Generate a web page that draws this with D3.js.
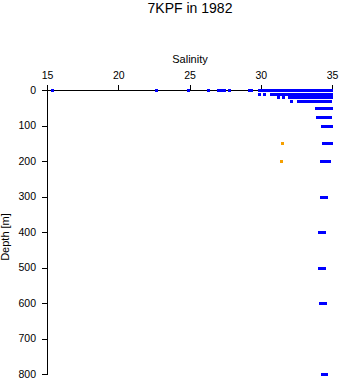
<!DOCTYPE html>
<html><head><meta charset="utf-8">
<script src="https://cdn.jsdelivr.net/npm/d3@7"></script>
<style>body{margin:0;background:#fff}svg{display:block}text{font-family:"Liberation Sans",Arial,sans-serif}</style>
</head><body><svg id="c" width="341" height="384"></svg>
<script>
const title = "7KPF in 1982";
const xLabel = "Salinity";
const yLabel = "Depth [m]";
const xTicks = [15, 20, 25, 30, 35];
const yTicks = [0, 100, 200, 300, 400, 500, 600, 700, 800];
const depths = [0, 10, 20, 30, 50, 75, 100, 150, 200, 300, 400, 500, 600, 800];
const blueSalinity = [
  [15.35, 22.65, 24.9, 26.3, 27.0, 27.2, 27.45, 27.8, 29.2, 29.35, 29.85, 30.05, 30.25, 30.45, 30.65, 30.85, 31.05, 31.25, 31.45, 31.65, 31.85, 32.05, 32.25, 32.45, 32.65, 32.85, 33.05, 33.25, 33.45, 33.65, 33.85, 34.05, 34.25, 34.45, 34.65, 34.85, 34.92],
  [29.9, 30.25, 30.72, 30.9, 31.1, 31.3, 31.5, 31.7, 31.9, 32.1, 32.3, 32.5, 32.7, 32.9, 33.1, 33.3, 33.5, 33.7, 33.9, 34.1, 34.3, 34.5, 34.7, 34.9],
  [31.23, 31.56, 31.95, 32.1, 32.3, 32.5, 32.7, 32.9, 33.1, 33.3, 33.5, 33.7, 33.9, 34.1, 34.3, 34.5, 34.7, 34.9],
  [32.12, 32.62, 32.72, 32.9, 33.1, 33.3, 33.5, 33.7, 33.9, 34.1, 34.3, 34.5, 34.7, 34.85],
  [33.86, 34.05, 34.25, 34.45, 34.65, 34.85, 34.92],
  [33.97, 34.15, 34.35, 34.55, 34.75, 34.88],
  [34.3, 34.5, 34.7, 34.9],
  [34.4, 34.6, 34.8, 34.9],
  [34.25, 34.45, 34.65, 34.82],
  [34.2, 34.4, 34.55],
  [34.1, 34.3, 34.42],
  [34.12, 34.3, 34.42],
  [34.18, 34.35, 34.48],
  [34.27, 34.45, 34.56]
];
const orangeDepths = [150, 200];
const orangeSalinity = [31.5, 31.45];

const svg = d3.select("#c");
const x = d3.scaleLinear().domain([15, 35]).range([47, 332]);
const y = d3.scaleLinear().domain([0, 800]).range([90, 374]);

svg.append("text").attr("x", 190).attr("y", 13).attr("text-anchor", "middle")
  .attr("font-size", 14).text(title);
svg.append("text").attr("x", 190).attr("y", 63).attr("text-anchor", "middle")
  .attr("font-size", 11).text(xLabel);
svg.append("text").attr("transform", "translate(9,237) rotate(-90)").attr("text-anchor", "middle")
  .attr("font-size", 11).text(yLabel);

const gx = svg.append("g").attr("transform", "translate(0,90)")
  .call(d3.axisTop(x).tickValues(xTicks).tickFormat(d3.format("d")).tickSize(5).tickPadding(6));
const gy = svg.append("g").attr("transform", "translate(47,0)")
  .call(d3.axisLeft(y).tickValues(yTicks).tickFormat(d3.format("d")).tickSize(5).tickPadding(6));
[gx, gy].forEach(g => {
  g.selectAll("path, line").attr("stroke", "#000").attr("shape-rendering", "crispEdges");
  g.selectAll("text").attr("font-family", "Liberation Sans, Arial, sans-serif").attr("font-size", 10.5).attr("fill", "#000");
});

const pts = [];
depths.forEach((d, i) => blueSalinity[i].forEach(s => pts.push({d, s, c: "#0000ff"})));
orangeDepths.forEach((d, i) => pts.push({d, s: orangeSalinity[i], c: "#f5a000"}));

svg.append("g").selectAll("rect").data(pts).join("rect")
  .attr("x", p => Math.round(x(p.s)) - 1).attr("y", p => Math.round(y(p.d)) - 1)
  .attr("width", 3).attr("height", 3).attr("fill", p => p.c)
  .attr("shape-rendering", "crispEdges");
</script></body></html>
